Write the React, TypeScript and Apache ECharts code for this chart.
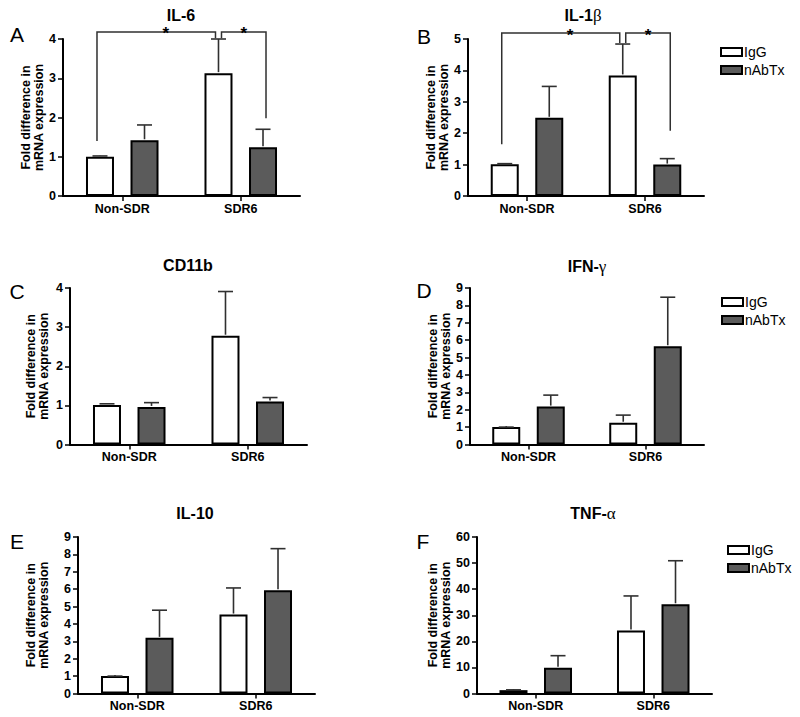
import React, { useEffect, useRef } from 'react';
import * as echarts from 'echarts';

// ---------- data ----------
const CATEGORIES = ['Non-SDR', 'SDR6'];
const SERIES_NAMES = ['IgG', 'nAbTx'];
const PANEL_TITLES = ['IL-6', 'IL-1β', 'CD11b', 'IFN-γ', 'IL-10', 'TNF-α'];
const PANEL_LETTERS = ['A', 'B', 'C', 'D', 'E', 'F'];
const Y_MAX = [4, 5, 4, 9, 9, 60];
const Y_INTERVAL = [1, 1, 1, 1, 1, 10];
const Y_AXIS_NAME = 'Fold difference in\nmRNA expression';

// mean values and mean+SEM (top of error bar)
const IL6_IGG = [1.0, 3.13];
const IL6_IGG_ERR = [1.02, 4.0];
const IL6_NABTX = [1.42, 1.24];
const IL6_NABTX_ERR = [1.81, 1.7];

const IL1B_IGG = [1.01, 3.84];
const IL1B_IGG_ERR = [1.03, 4.84];
const IL1B_NABTX = [2.49, 1.0];
const IL1B_NABTX_ERR = [3.49, 1.19];

const CD11B_IGG = [1.01, 2.78];
const CD11B_IGG_ERR = [1.04, 3.91];
const CD11B_NABTX = [0.96, 1.1];
const CD11B_NABTX_ERR = [1.07, 1.2];

const IFNG_IGG = [1.0, 1.25];
const IFNG_IGG_ERR = [1.0, 1.69];
const IFNG_NABTX = [2.18, 5.65];
const IFNG_NABTX_ERR = [2.84, 8.47];

const IL10_IGG = [1.0, 4.54];
const IL10_IGG_ERR = [1.0, 6.07];
const IL10_NABTX = [3.2, 5.94];
const IL10_NABTX_ERR = [4.79, 8.33];

const TNFA_IGG = [1.28, 24.2];
const TNFA_IGG_ERR = [1.4, 37.4];
const TNFA_NABTX = [9.87, 34.2];
const TNFA_NABTX_ERR = [14.5, 50.9];

const IGG_VALUES = [IL6_IGG, IL1B_IGG, CD11B_IGG, IFNG_IGG, IL10_IGG, TNFA_IGG];
const IGG_ERRORS = [IL6_IGG_ERR, IL1B_IGG_ERR, CD11B_IGG_ERR, IFNG_IGG_ERR, IL10_IGG_ERR, TNFA_IGG_ERR];
const NABTX_VALUES = [IL6_NABTX, IL1B_NABTX, CD11B_NABTX, IFNG_NABTX, IL10_NABTX, TNFA_NABTX];
const NABTX_ERRORS = [IL6_NABTX_ERR, IL1B_NABTX_ERR, CD11B_NABTX_ERR, IFNG_NABTX_ERR, IL10_NABTX_ERR, TNFA_NABTX_ERR];

// significance brackets: [fromCategory, fromSeries, toCategory, toSeries, bracketY, fromLegEndY, toLegEndY]
const IL6_BRACKETS = [
  [0, 0, 1, 0, 4.18, 1.4, 4.02],
  [1, 0, 1, 1, 4.18, 4.02, 1.98],
];
const IL1B_BRACKETS = [
  [0, 0, 1, 0, 5.19, 1.65, 4.87],
  [1, 0, 1, 1, 5.19, 4.87, 2.08],
];
const BRACKETS: Record<number, number[][]> = { 0: IL6_BRACKETS, 1: IL1B_BRACKETS };
const SIG_LABEL = '*';

// ---------- layout / style ----------
const FONT = '"Liberation Sans", Arial, Helvetica, sans-serif';
const GREEK_FONT = '"Liberation Serif", "DejaVu Serif", serif';
const BAR_W = 28;
const BAR_GAP = 0.59;
const BAR_OFFSET = (BAR_W + BAR_W * BAR_GAP) / 2;
const CAP_HALF = 7.5;
const ERR_COLOR = '#303030';
const NABTX_COLOR = '#5b5b5b';

const GRIDS = [
  { left: 63, top: 39, width: 237, height: 157, nameGap: 10 },
  { left: 468, top: 39, width: 236, height: 157, nameGap: 12 },
  { left: 70, top: 288, width: 237, height: 156.5, nameGap: 20 },
  { left: 470, top: 288, width: 234, height: 156.5, nameGap: 15 },
  { left: 78, top: 537, width: 237, height: 156.5, nameGap: 28 },
  { left: 477, top: 537, width: 235, height: 156.5, nameGap: 22 },
];
const TITLE_POS = [
  [181, 15], [583, 15], [188, 265], [587, 266], [195, 513], [593, 513],
];
const LETTER_POS = [
  [17, 34], [424, 36], [17, 291], [424, 290], [17, 541], [423, 541],
];
const LEGEND_POS = [
  [720, 45], [721, 295], [727, 543],
];

function titleText(t: string) {
  const m = t.match(/^(.*?)([α-ω])$/);
  if (m) return `{b|${m[1]}}{g|${m[2]}}`;
  return `{b|${t}}`;
}

function buildOption() {
  const axisText = { color: '#000', fontFamily: FONT, fontWeight: 'bold' as const, fontSize: 12.5 };
  const grid = GRIDS.map((g) => ({
    left: g.left, top: g.top, width: g.width, height: g.height,
    containLabel: false, outerBoundsMode: 'none',
  }));
  const xAxis = GRIDS.map((_, i) => ({
    type: 'category', gridIndex: i, data: CATEGORIES,
    axisLine: { show: true, lineStyle: { color: '#000', width: 2 } },
    axisTick: { show: true, alignWithLabel: true, length: 5, lineStyle: { color: '#000', width: 1.5 } },
    axisLabel: { ...axisText, margin: 6 },
    splitLine: { show: false },
  }));
  const yAxis = GRIDS.map((g, i) => ({
    type: 'value', gridIndex: i, min: 0, max: Y_MAX[i], interval: Y_INTERVAL[i],
    axisLine: { show: true, lineStyle: { color: '#000', width: 2 } },
    axisTick: { show: true, length: 5, lineStyle: { color: '#000', width: 1.5 } },
    axisLabel: { ...axisText, margin: 7 },
    splitLine: { show: false },
    name: Y_AXIS_NAME, nameLocation: 'middle', nameGap: g.nameGap,
    nameTextStyle: { ...axisText, lineHeight: 13 },
  }));

  const series: any[] = [];
  GRIDS.forEach((_, i) => {
    series.push({
      type: 'bar', name: SERIES_NAMES[0], xAxisIndex: i, yAxisIndex: i,
      data: IGG_VALUES[i], barWidth: BAR_W, barGap: `${BAR_GAP * 100}%`,
      itemStyle: { color: '#ffffff', borderColor: '#000', borderWidth: 2 },
      emphasis: { disabled: true }, z: 2,
    });
    series.push({
      type: 'bar', name: SERIES_NAMES[1], xAxisIndex: i, yAxisIndex: i,
      data: NABTX_VALUES[i], barWidth: BAR_W, barGap: `${BAR_GAP * 100}%`,
      itemStyle: { color: NABTX_COLOR, borderColor: '#000', borderWidth: 2 },
      emphasis: { disabled: true }, z: 2,
    });
    [IGG_VALUES, NABTX_VALUES].forEach((vals, s) => {
      const errs = s === 0 ? IGG_ERRORS[i] : NABTX_ERRORS[i];
      const side = s === 0 ? -1 : 1;
      series.push({
        type: 'custom', xAxisIndex: i, yAxisIndex: i, silent: true, z: 3, clip: false,
        data: vals[i].map((v, c) => [c, v, errs[c]]),
        encode: { x: 0, y: [1, 2] },
        renderItem: (params: any, api: any) => {
          const c = api.value(0);
          const base = api.coord([c, api.value(1)]);
          const top = api.coord([c, api.value(2)]);
          const x = base[0] + side * BAR_OFFSET;
          const st = { stroke: ERR_COLOR, lineWidth: 1.6 };
          return {
            type: 'group',
            children: [
              { type: 'line', shape: { x1: x, y1: base[1] - 1, x2: x, y2: top[1] }, style: st },
              { type: 'line', shape: { x1: x - CAP_HALF, y1: top[1], x2: x + CAP_HALF, y2: top[1] }, style: st },
            ],
          };
        },
      });
    });
    if (BRACKETS[i]) {
      series.push({
        type: 'custom', xAxisIndex: i, yAxisIndex: i, silent: true, z: 4, clip: false,
        data: BRACKETS[i],
        encode: { x: [0, 2], y: [4, 5, 6] },
        renderItem: (params: any, api: any) => {
          const c1 = api.value(0), s1 = api.value(1), c2 = api.value(2), s2 = api.value(3);
          const yTop = api.coord([c1, api.value(4)])[1];
          const y1 = api.coord([c1, api.value(5)])[1];
          const y2 = api.coord([c2, api.value(6)])[1];
          const nudge = c1 === c2 ? 3 : -3;
          const x1 = api.coord([c1, 0])[0] + (s1 === 0 ? -1 : 1) * BAR_OFFSET + nudge;
          const x2 = api.coord([c2, 0])[0] + (s2 === 0 ? -1 : 1) * BAR_OFFSET + nudge;
          const frac = c1 === c2 ? 0.5 : 0.58;
          const st = { stroke: ERR_COLOR, lineWidth: 1.5, fill: 'none' };
          return {
            type: 'group',
            children: [
              { type: 'polyline', shape: { points: [[x1, y1], [x1, yTop], [x2, yTop], [x2, y2]] }, style: st },
              {
                type: 'text',
                style: {
                  text: SIG_LABEL, x: x1 + (x2 - x1) * frac, y: yTop + 2,
                  align: 'center', verticalAlign: 'middle',
                  fontFamily: FONT, fontWeight: 'bold', fontSize: 17, fill: '#000',
                },
              },
            ],
          };
        },
      });
    }
  });

  const graphic: any[] = [];
  PANEL_TITLES.forEach((t, i) => {
    graphic.push({
      type: 'text', silent: true,
      style: {
        text: titleText(t), x: TITLE_POS[i][0], y: TITLE_POS[i][1],
        align: 'center', verticalAlign: 'middle',
        rich: {
          b: { fontFamily: FONT, fontWeight: 'bold', fontSize: 16, fill: '#000' },
          g: { fontFamily: GREEK_FONT, fontWeight: 'normal', fontSize: 17, fill: '#000' },
        },
      },
    });
    graphic.push({
      type: 'text', silent: true,
      style: {
        text: PANEL_LETTERS[i], x: LETTER_POS[i][0], y: LETTER_POS[i][1],
        align: 'center', verticalAlign: 'middle',
        fontFamily: FONT, fontWeight: 'normal', fontSize: 21, fill: '#000',
      },
    });
  });

  const legend = LEGEND_POS.map((p) => ({
    left: p[0], top: p[1], orient: 'vertical', padding: 0,
    itemWidth: 21, itemHeight: 8, itemGap: 4, icon: 'rect',
    selectedMode: false,
    data: SERIES_NAMES,
    textStyle: { color: '#000', fontFamily: FONT, fontSize: 14, padding: [0, 0, 0, -3] },
  }));

  return {
    animation: false,
    backgroundColor: '#ffffff',
    grid, xAxis, yAxis, series, graphic, legend,
  };
}

export default function App() {
  const ref = useRef<HTMLDivElement>(null);
  useEffect(() => {
    if (!ref.current) return;
    const chart = echarts.init(ref.current, null, { renderer: 'svg' });
    chart.setOption(buildOption() as any);
    return () => chart.dispose();
  }, []);
  return (
    <div
      ref={ref}
      style={{ position: 'absolute', left: 0, top: 0, width: 800, height: 717, background: '#fff' }}
    />
  );
}
